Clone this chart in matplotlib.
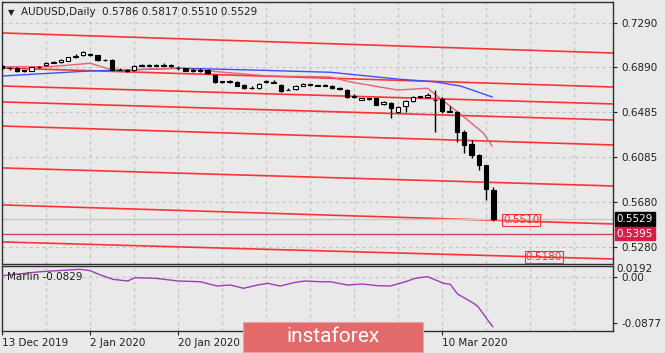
import matplotlib.pyplot as plt
import matplotlib.transforms as mtransforms
from matplotlib.patches import FancyBboxPatch

# AUDUSD daily, 13 Dec 2019 .. 19 Mar 2020
opens  = [0.6905, 0.6880, 0.6882, 0.6862, 0.6860, 0.6892, 0.6910, 0.6932, 0.6935, 0.6950,
          0.6978, 0.7000, 0.7010, 0.6998, 0.6955, 0.6952, 0.6868, 0.6868, 0.6862, 0.6905,
          0.6908, 0.6905, 0.6908, 0.6908, 0.6885, 0.6880, 0.6862, 0.6862, 0.6865, 0.6820,
          0.6765, 0.6762, 0.6755, 0.6730, 0.6705, 0.6702, 0.6760, 0.6762, 0.6730, 0.6688,
          0.6696, 0.6725, 0.6738, 0.6728, 0.6726, 0.6725, 0.6700, 0.6688, 0.6628, 0.6600,
          0.6607, 0.6612, 0.6560, 0.6570, 0.6492, 0.6545, 0.6590, 0.6628, 0.6620, 0.6600,
          0.6605, 0.6495, 0.6490, 0.6310, 0.6205, 0.6100, 0.6010, 0.5786]
highs  = [0.6915, 0.6890, 0.6890, 0.6868, 0.6895, 0.6902, 0.6935, 0.6942, 0.6962, 0.6985,
          0.7005, 0.7035, 0.7020, 0.7002, 0.6965, 0.6960, 0.6880, 0.6875, 0.6910, 0.6918,
          0.6915, 0.6918, 0.6930, 0.6915, 0.6900, 0.6885, 0.6880, 0.6885, 0.6872, 0.6825,
          0.6770, 0.6775, 0.6765, 0.6740, 0.6720, 0.6745, 0.6775, 0.6772, 0.6738, 0.6700,
          0.6728, 0.6745, 0.6742, 0.6735, 0.6738, 0.6730, 0.6712, 0.6692, 0.6648, 0.6618,
          0.6618, 0.6618, 0.6585, 0.6575, 0.6545, 0.6600, 0.6630, 0.6633, 0.6655, 0.6686,
          0.6625, 0.6540, 0.6495, 0.6325, 0.6240, 0.6110, 0.6015, 0.5817]
lows   = [0.6870, 0.6870, 0.6852, 0.6848, 0.6855, 0.6885, 0.6905, 0.6926, 0.6930, 0.6945,
          0.6970, 0.6995, 0.6992, 0.6948, 0.6942, 0.6862, 0.6862, 0.6850, 0.6855, 0.6898,
          0.6898, 0.6897, 0.6898, 0.6893, 0.6870, 0.6855, 0.6845, 0.6845, 0.6832, 0.6752,
          0.6745, 0.6750, 0.6720, 0.6695, 0.6698, 0.6695, 0.6748, 0.6745, 0.6672, 0.6682,
          0.6690, 0.6720, 0.6722, 0.6718, 0.6718, 0.6698, 0.6688, 0.6618, 0.6618, 0.6595,
          0.6598, 0.6548, 0.6555, 0.6435, 0.6480, 0.6490, 0.6580, 0.6612, 0.6610, 0.6310,
          0.6480, 0.6485, 0.6220, 0.6125, 0.6075, 0.5970, 0.5700, 0.5510]
closes = [0.6880, 0.6882, 0.6860, 0.6855, 0.6890, 0.6895, 0.6928, 0.6935, 0.6955, 0.6980,
          0.6995, 0.7025, 0.6998, 0.6955, 0.6952, 0.6868, 0.6866, 0.6858, 0.6900, 0.6908,
          0.6905, 0.6908, 0.6905, 0.6898, 0.6884, 0.6860, 0.6858, 0.6860, 0.6838, 0.6758,
          0.6762, 0.6765, 0.6725, 0.6705, 0.6702, 0.6738, 0.6762, 0.6752, 0.6680, 0.6686,
          0.6720, 0.6740, 0.6728, 0.6726, 0.6728, 0.6705, 0.6698, 0.6625, 0.6625, 0.6612,
          0.6609, 0.6552, 0.6580, 0.6525, 0.6535, 0.6590, 0.6622, 0.6620, 0.6640, 0.6595,
          0.6495, 0.6490, 0.6310, 0.6195, 0.6100, 0.6015, 0.5795, 0.5529]

# moving averages (bar, price)
ma_fast_x = [0, 6.5, 12, 14.7, 17.5, 24, 29.7, 36.2, 44.7, 47.5, 53.9, 58, 60, 62.9, 65.6, 66.8]
ma_fast_y = [0.6895, 0.6895, 0.6926, 0.6872, 0.6866, 0.6884, 0.6848, 0.6812, 0.6803, 0.6758,
             0.6686, 0.6702, 0.6597, 0.6447, 0.6301, 0.6184]
ma_slow_x = [0, 12, 24.3, 33.8, 44.8, 54.3, 58.8, 62.5, 66.8]
ma_slow_y = [0.6812, 0.6857, 0.6881, 0.6866, 0.6845, 0.6782, 0.6761, 0.6722, 0.6624]

# channel lines: price at left edge / right edge
chan_left  = [0.7198, 0.6884, 0.6722, 0.6579, 0.6363, 0.5987, 0.5655, 0.5323]
chan_right = [0.7018, 0.6713, 0.6561, 0.6417, 0.6193, 0.5825, 0.5484, 0.5170]
level = 0.5395
bid = 0.5529

# Marlin oscillator (bar, value)
marlin_x = [0, 5.2, 10.6, 12, 13.4, 15.1, 17.1, 18.1, 20.9, 24, 27, 29.3, 31.1, 32.9, 34.8,
            36.2, 37.9, 39.7, 41.3, 43.4, 44.7, 47.1, 49.1, 51.2, 52.9, 55, 56.3, 58, 60.2,
            61.1, 62.1, 64.3, 64.9, 66.2, 66.9]
marlin_y = [0.0025, 0.0101, 0.0147, 0.0120, 0.0038, -0.0044, -0.0076, -0.0013, -0.0025,
            -0.0076, -0.0090, -0.0172, -0.0153, -0.0215, -0.0153, -0.0120, -0.0172, -0.0109,
            -0.0076, -0.0090, -0.0090, -0.0153, -0.0133, -0.0166, -0.0172, -0.0090, -0.0025,
            0.0006, -0.0120, -0.0139, -0.0324, -0.0502, -0.0566, -0.0820, -0.0948]

price_ticks = [0.7290, 0.6890, 0.6485, 0.6085, 0.5680, 0.5280]
# labels at 36 and 48 sit under the logo in the original
date_pos = [0, 12, 24, 36, 48, 60]
date_labels = ['13 Dec 2019', '2 Jan 2020', '20 Jan 2020', '', '', '10 Mar 2020']

bg = '#e9e9e9'
grid_kw = dict(color='#c4c4c4', lw=0.8, ls=(0, (3, 3)))
xmin, xmax = 0, 83.3

fig = plt.figure(figsize=(6.65, 3.53), dpi=100, facecolor=bg)
ax = fig.add_axes([2.3 / 665, 1 - 264 / 353, 610.7 / 665, 261.7 / 353], facecolor=bg)
ax2 = fig.add_axes([2.3 / 665, 1 - 331 / 353, 610.7 / 665, 65 / 353], facecolor=bg)

# grid
for g in range(0, 84, 6):
    ax.axvline(g, zorder=0, **grid_kw)
    ax2.axvline(g, zorder=0, **grid_kw)
for t in price_ticks:
    ax.axhline(t, zorder=0, **grid_kw)
ax2.axhline(0, zorder=0, **grid_kw)

# channels and levels
for l, r in zip(chan_left, chan_right):
    ax.plot([xmin, xmax], [l, r], color='#ff2020', lw=1.2, alpha=0.9, zorder=1)
ax.axhline(level, color='#d8405c', lw=1.0, zorder=1)
ax.axhline(bid, color='#c8c8c8', lw=1.0, zorder=1)

ax.plot(ma_slow_x, ma_slow_y, color='#4050ff', lw=1.0, zorder=2)
ax.plot(ma_fast_x, ma_fast_y, color='#e8607a', lw=1.0, zorder=2)

# candles
for i in range(len(opens)):
    o, h, l, c = opens[i], highs[i], lows[i], closes[i]
    ax.vlines(i, l, h, color='black', lw=1.0, zorder=3)
    bot, top = min(o, c), max(o, c)
    hgt = max(top - bot, 0.0003)
    face = 'black' if c < o else 'white'
    ax.bar(i, hgt, bottom=bot, width=0.6, color=face, edgecolor='black', lw=0.8, zorder=4)

ax.set_xlim(xmin, xmax)
ax.set_ylim(0.5125, 0.7473)
ax.yaxis.tick_right()
ax.set_yticks(price_ticks)
ax.set_yticklabels(['%.4f' % t for t in price_ticks])
ax.set_xticks([])
ax.tick_params(axis='y', length=3, width=0.8, colors='#202020', labelsize=7.5, pad=3)

trans = mtransforms.blended_transform_factory(ax.transAxes, ax.transData)
ax.text(1.006, bid, '0.5529', transform=trans, fontsize=7.5, color='white', va='center',
        ha='left', bbox=dict(boxstyle='square,pad=0.15', fc='black', ec='black'), zorder=10,
        clip_on=False)
ax.text(1.006, level, '0.5395', transform=trans, fontsize=7.5, color='white', va='center',
        ha='left', bbox=dict(boxstyle='square,pad=0.15', fc='#d81e48', ec='#d81e48'), zorder=10,
        clip_on=False)

ax.text(68.3, 0.5516, '0.5510', fontsize=7.5, color='#ff3030', va='center', ha='left',
        bbox=dict(boxstyle='square,pad=0.1', fc='none', ec='#ff3030', lw=0.8), zorder=6)
ax.text(71.4, 0.5188, '0.5180', fontsize=7.5, color='#ff3030', va='center', ha='left',
        bbox=dict(boxstyle='square,pad=0.1', fc='none', ec='#ff3030', lw=0.8), zorder=6)

ax.text(0.009, 0.962, '\u25bc', transform=ax.transAxes, fontsize=6, color='#202020',
        va='center', ha='left')
ax.text(0.030, 0.962, 'AUDUSD,Daily  0.5786 0.5817 0.5510 0.5529', transform=ax.transAxes,
        fontsize=7.5, color='#202020', va='center', ha='left')

# Marlin panel
ax2.plot(marlin_x, marlin_y, color='#a03cb8', lw=1.0, zorder=3)
ax2.set_xlim(xmin, xmax)
ax2.set_ylim(-0.1030, 0.0210)
ax2.yaxis.tick_right()
ax2.set_yticks([0, -0.0877])
ax2.set_yticklabels(['0.00', '-0.0877'])
ax2.tick_params(axis='y', length=3, width=0.8, colors='#202020', labelsize=7.5, pad=3)
ax2.text(1.006, 0.0160, '0.0192', transform=mtransforms.blended_transform_factory(
    ax2.transAxes, ax2.transData), fontsize=7.5, color='#202020', va='center', ha='left',
    clip_on=False)
ax2.text(0.008, 0.83, 'Marlin -0.0829', transform=ax2.transAxes, fontsize=7.5,
         color='#202020', va='center', ha='left')

ax2.set_xticks(date_pos)
ax2.set_xticklabels(date_labels, ha='left')
ax2.tick_params(axis='x', length=3, width=0.8, colors='#202020', labelsize=7.5, pad=2)

for a in (ax, ax2):
    for s in a.spines.values():
        s.set_color('#303030')
        s.set_linewidth(1.0)

# logo
logo = FancyBboxPatch((243 / 665, 1 - 352 / 353), 180 / 665, 30 / 353,
                      boxstyle='square,pad=0', transform=fig.transFigure,
                      fc='#e36a6a', ec='#f0a0a0', lw=0.8, zorder=20)
fig.patches.append(logo)
fig.text(333 / 665, 1 - 336 / 353, 'instaforex', fontsize=15, color='white',
         family='Roboto', ha='center', va='center', zorder=21)

fig.savefig('out.png', dpi=100, facecolor=bg)
